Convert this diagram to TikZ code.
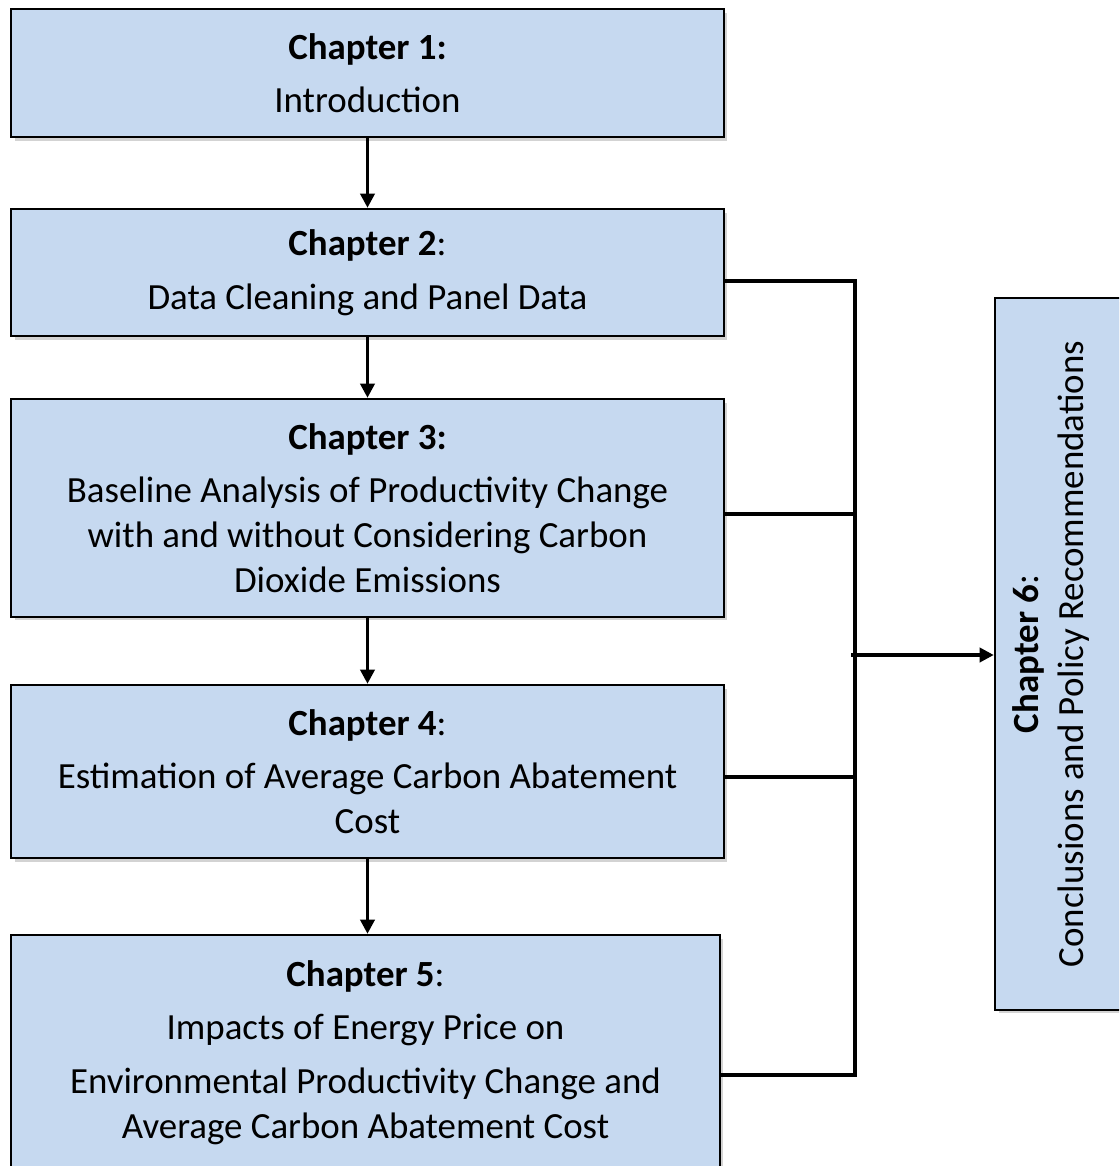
\documentclass[tikz,border=0pt]{standalone}
\usepackage{fontspec}
\setmainfont{Carlito}
\usepackage{tikz}
\usetikzlibrary{arrows.meta, shadows}
\definecolor{boxblue}{RGB}{198,217,240}

\begin{document}
\begin{tikzpicture}[x=0.02cm, y=-0.02cm, font=\fontsize{21}{25.5}\selectfont]
      \tikzstyle{arrow} = [line width=1.9pt,-{Triangle[length=8pt,width=8pt]}]
      \tikzstyle{link} = [line width=1.9pt]
      \tikzstyle{chapter} = [rectangle, draw=black, line width=1.4pt, fill=boxblue, align=center,
        drop shadow={shadow xshift=2pt, shadow yshift=-2pt, opacity=0.35}]
      \clip (0,0) rectangle (1119,1166);
      \node (ch1) [chapter, minimum width=14.26cm, minimum height=2.56cm] at (367.5,73)
        {\textbf{Chapter 1:}\\[5pt] Introduction};
      \node (ch2) [chapter, minimum width=14.26cm, minimum height=2.54cm] at (367.5,272.5)
        {\textbf{Chapter 2}:\\[5pt] Data Cleaning and Panel Data};
      \node (ch3) [chapter, minimum width=14.26cm, minimum height=4.36cm] at (367.5,508)
        {\textbf{Chapter 3:}\\[5pt] Baseline Analysis of Productivity Change\\ with and without Considering Carbon\\ Dioxide Emissions};
      \node (ch4) [chapter, minimum width=14.26cm, minimum height=3.46cm] at (367.5,771.5)
        {\textbf{Chapter 4}:\\[5pt] Estimation of Average Carbon Abatement\\ Cost};
      \node (ch5) [chapter, minimum width=14.18cm, minimum height=4.7cm] at (365.5,1052.5)
        {\textbf{Chapter 5}:\\[5pt] Impacts of Energy Price on\\[5pt] Environmental Productivity Change and\\ Average Carbon Abatement Cost};
      \node (ch6) [chapter, minimum width=2.7cm, minimum height=14.24cm] at (1062.5,654) {};
      \node (ch6-text) [rotate=90, align=center] at (1051,654)
        {\textbf{Chapter 6}:\\ Conclusions and Policy Recommendations};
      % collecting line on the right
      \coordinate (bus-2) at (855,281);
      \coordinate (bus-3) at (855,514);
      \coordinate (bus-4) at (855,777);
      \coordinate (bus-5) at (855,1075);
      \coordinate (bus-out) at (851,655);
      \draw [arrow] (ch1) -- (ch2);
      \draw [arrow] (ch2) -- (ch3);
      \draw [arrow] (ch3) -- (ch4);
      \draw [arrow] (ch4.south) -- (ch4.south |- ch5.north);
      \draw [link] (ch2.east |- bus-2) -- (bus-2) -- (bus-5) -- (ch5.east |- bus-5);
      \draw [link] (ch3.east |- bus-3) -- (bus-3);
      \draw [link] (ch4.east |- bus-4) -- (bus-4);
      \draw [arrow] (bus-out) -- (ch6.west |- bus-out);
\end{tikzpicture}
\end{document}
